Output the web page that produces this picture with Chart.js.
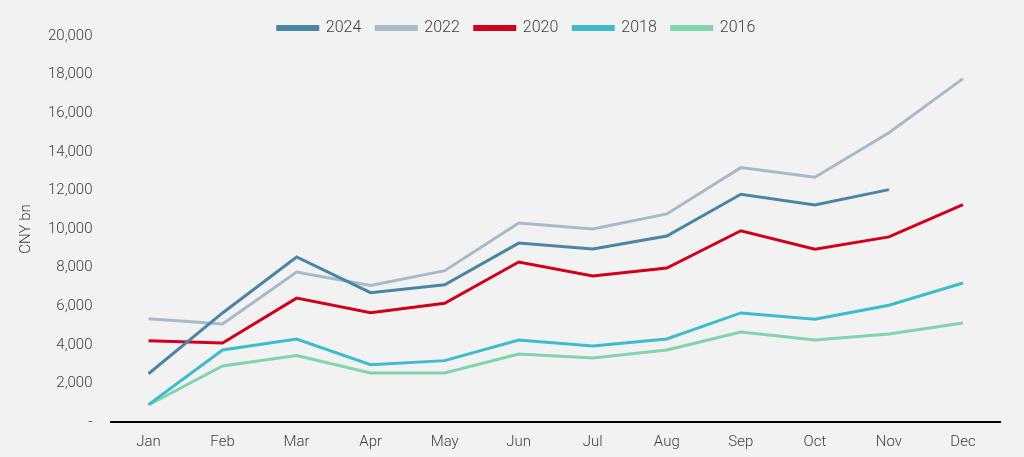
<!DOCTYPE html>
<html>
<head>
<meta charset="utf-8">
<script src="https://cdn.jsdelivr.net/npm/chart.js@4/dist/chart.umd.min.js"></script>
<style>
  html, body { margin: 0; padding: 0; background: #f2f2f2; }
  #wrap { width: 1024px; height: 457px; }
</style>
</head>
<body>
<div id="wrap"><canvas id="chart"></canvas></div>
<script>
// months on the x axis
var months = ['Jan', 'Feb', 'Mar', 'Apr', 'May', 'Jun', 'Jul', 'Aug', 'Sep', 'Oct', 'Nov', 'Dec'];

// values, CNY bn
var y2024 = [2500, 5650, 8550, 6700, 7110, 9270, 8960, 9640, 11800, 11240, 12040, null];
var y2022 = [5350, 5080, 7770, 7080, 7840, 10310, 10000, 10780, 13180, 12680, 14990, 17790];
var y2020 = [4210, 4090, 6420, 5660, 6150, 8290, 7560, 7980, 9910, 8950, 9590, 11260];
var y2018 = [900, 3730, 4300, 2970, 3180, 4250, 3940, 4300, 5650, 5320, 6050, 7200];
var y2016 = [880, 2900, 3440, 2540, 2540, 3520, 3320, 3730, 4660, 4250, 4560, 5130];

var textColor = '#404040';
var font = { family: 'Roboto', size: 15, weight: 300 };

function series(label, data, color) {
  return {
    label: label, data: data,
    borderColor: color, backgroundColor: color,
    borderWidth: 3, pointRadius: 0, tension: 0, spanGaps: false
  };
}

// move the legend closer to the plot and a bit right, like the original
var legendNudge = {
  id: 'legendNudge',
  afterLayout: function(chart) {
    chart.legend.top += 10;
    chart.legend.bottom += 10;
    chart.legend.left += 8;
    chart.legend.right += 8;
  }
};

var ctx = document.getElementById('chart').getContext('2d');
new Chart(ctx, {
  type: 'line',
  data: {
    labels: months,
    datasets: [
      series('2024', y2024, '#4a86a4'),
      series('2022', y2022, '#a8bac6'),
      series('2020', y2020, '#d0021b'),
      series('2018', y2018, '#3fbccb'),
      series('2016', y2016, '#82d4ac')
    ]
  },
  options: {
    responsive: true,
    maintainAspectRatio: false,
    animation: false,
    layout: { padding: { left: 17, right: 24, top: -5, bottom: -5 } },
    plugins: {
      legend: {
        position: 'top',
        labels: {
          color: textColor, font: { family: 'Roboto', size: 16, weight: 300 },
          boxWidth: 40, boxHeight: 3, padding: 15
        }
      },
      tooltip: { enabled: false }
    },
    scales: {
      x: {
        offset: true,
        grid: { display: false, drawTicks: false },
        border: { display: true, color: '#000000', width: 2 },
        ticks: { color: textColor, font: font, padding: 11 }
      },
      y: {
        min: 0, max: 20000,
        grid: { display: false, drawTicks: false },
        border: { display: false },
        ticks: {
          stepSize: 2000, color: textColor, font: font, padding: 19,
          callback: function(v) { return v === 0 ? '-' : v.toLocaleString('en-US'); }
        },
        title: { display: true, text: 'CNY bn', color: textColor, font: font, padding: { top: 0, bottom: -6 } }
      }
    }
  },
  plugins: [legendNudge]
});
</script>
</body>
</html>
